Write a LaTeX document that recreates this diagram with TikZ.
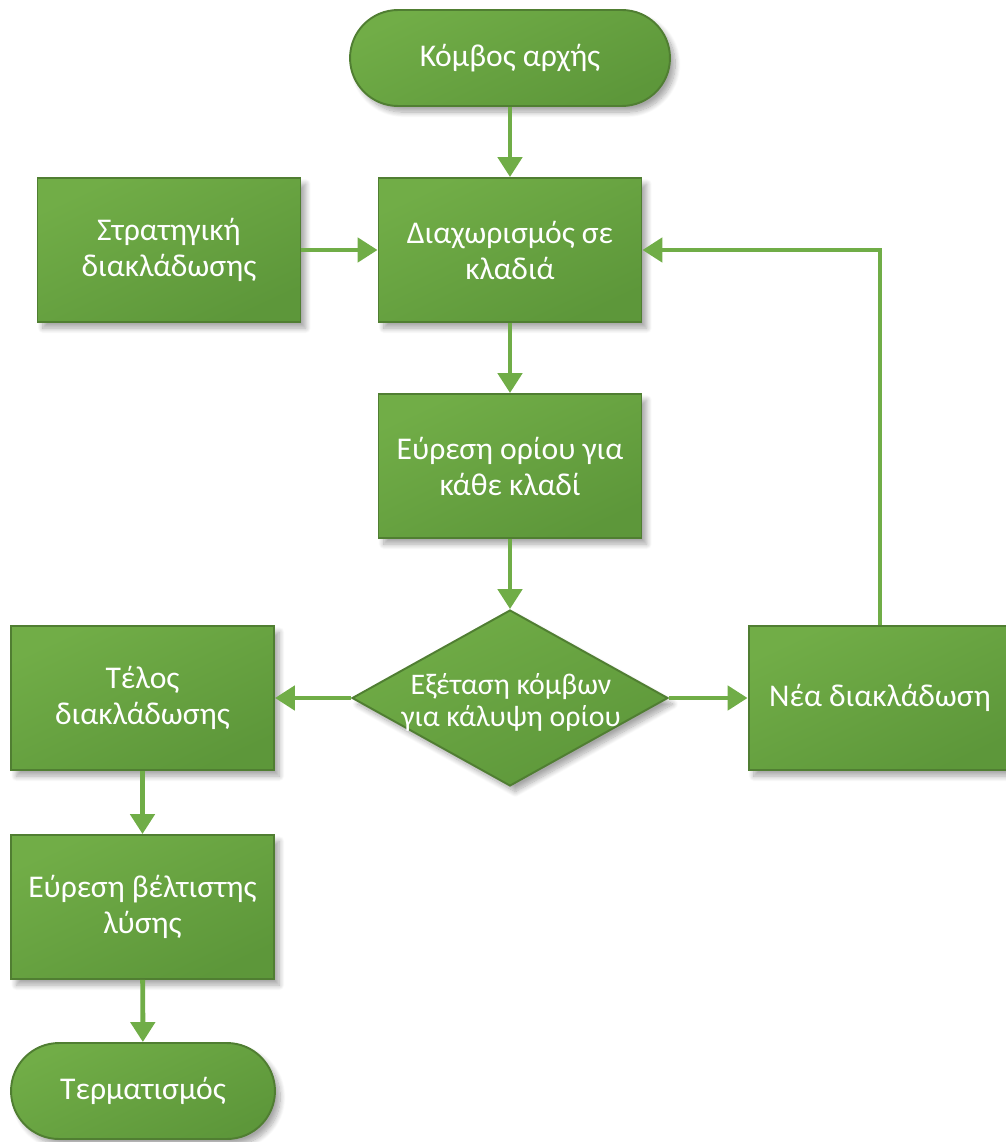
\documentclass[tikz,border=0pt]{standalone}
\usepackage{fontspec}
\setmainfont{Carlito}
\usetikzlibrary{arrows.meta,shapes.geometric,shadows.blur}
\definecolor{gLight}{HTML}{71AD47}
\definecolor{gDark}{HTML}{5D973A}
\definecolor{gEdge}{HTML}{507E32}
\definecolor{gLine}{HTML}{70AD47}
\tikzset{
  boxfill/.style={draw=gEdge, line width=1.1pt,
    top color=gLight, bottom color=gDark, shading angle=25,
    blur shadow={shadow xshift=3pt, shadow yshift=-3.5pt, shadow blur steps=10, shadow opacity=35, shadow blur radius=3pt}},
  txt/.style={text=white, font=\fontsize{18}{20.5}\selectfont, align=center},
  process/.style={boxfill, txt, rectangle, minimum width=5.26cm, minimum height=2.88cm, inner sep=0pt},
  terminal/.style={boxfill, txt, rectangle, rounded corners=0.96cm, minimum height=1.92cm, inner sep=0pt},
  decision/.style={boxfill, diamond, minimum width=6.32cm, minimum height=3.52cm, inner sep=0pt},
  flow/.style={draw=gLine, line width=2.8pt, -{Triangle[length=0.4cm, width=0.48cm]}}
}
\begin{document}
\begin{tikzpicture}[x=0.02cm, y=-0.02cm]
\useasboundingbox (0,0) rectangle (1006,1142);

\node[terminal, minimum width=6.4cm] (start) at (510,58) {Κόμβος αρχής};
\node[process] (split) at (510,250) {Διαχωρισμός σε\\κλαδιά};
\node[process] (strat) at (169,250) {Στρατηγική\\διακλάδωσης};
\node[process] (bound) at (510,466) {Εύρεση ορίου για\\κάθε κλαδί};
\node[decision] (check) at (510,698) {};
\node[txt, font=\fontsize{17}{18.3}\selectfont] (checktxt) at (511,702) {Εξέταση κόμβων\\για κάλυψη ορίου};
\node[process] (endb) at (142.5,698) {Τέλος\\διακλάδωσης};
\node[process] (newb) at (880,698) {Νέα διακλάδωση};
\node[process] (best) at (142.5,907) {Εύρεση βέλτιστης\\λύσης};
\node[terminal, minimum width=5.28cm] (stop) at (143,1091) {Τερματισμός};

\draw[flow] (start) -- (split);
\draw[flow] (strat) -- (split);
\draw[flow] (split) -- (bound);
\draw[flow] (bound) -- (check);
\draw[flow] (check.west) -- (endb);
\draw[flow] (check.east) -- (newb);
\draw[flow] (newb.north) |- (split.east);
\draw[flow] (endb) -- (best);
\draw[flow] (best) -- (stop);
\end{tikzpicture}
\end{document}
